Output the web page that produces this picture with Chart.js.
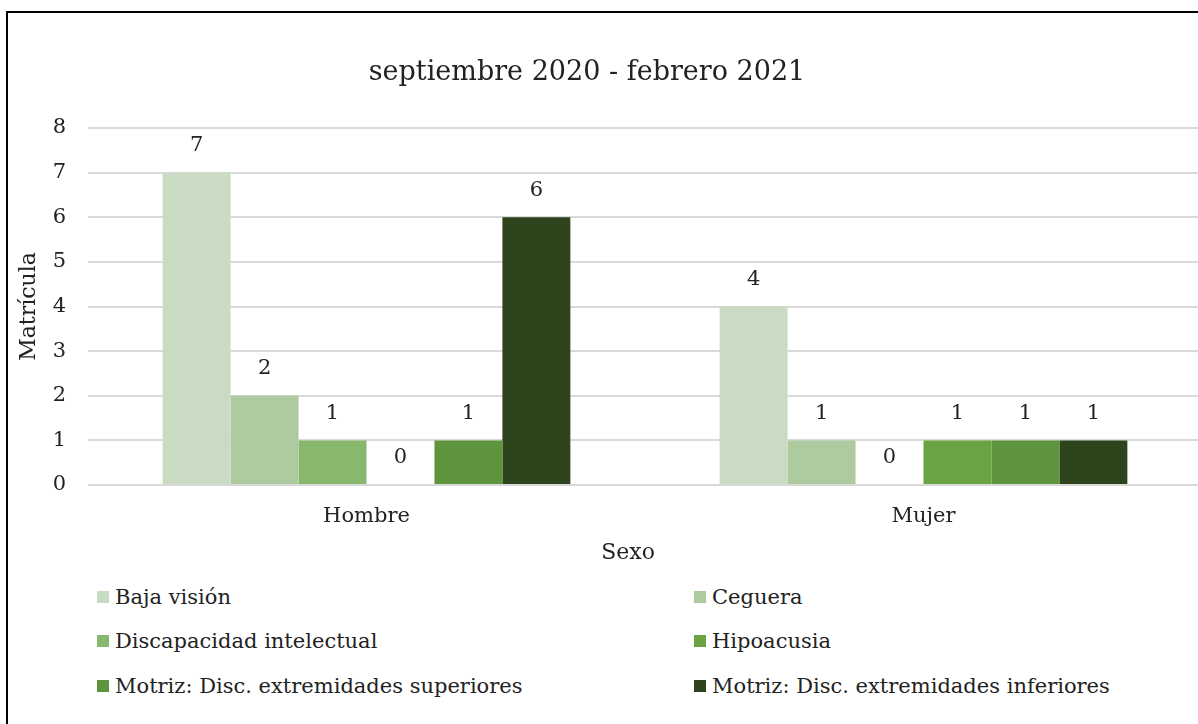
<!DOCTYPE html>
<html>
<head>
<meta charset="utf-8">
<script src="https://cdn.jsdelivr.net/npm/chart.js@4"></script>
<style>
  html, body { margin: 0; padding: 0; overflow: hidden; background: #fff; width: 1198px; height: 724px; }
  #frame { position: absolute; left: 6px; top: 11px; width: 1230px; height: 760px; border: 2px solid #000; box-sizing: border-box; }
  #wrap { position: absolute; left: 0; top: 0; width: 1202px; height: 570px; }
  #legend { position: absolute; left: 0; top: 0; font-family: "DejaVu Serif", serif; font-size: 21px; color: #222; }
  .item { position: absolute; white-space: nowrap; line-height: 24px; }
  .item span.box { position: absolute; left: 0; top: 6px; width: 12px; height: 12px; }
  .item span.txt { position: absolute; left: 18px; top: 0; }
</style>
</head>
<body>
<div id="frame"></div>
<div id="wrap"><canvas id="chart"></canvas></div>
<div id="legend"></div>
<script>
// Categories and series
const categories = ['Hombre', 'Mujer'];
const seriesNames = [
  'Baja visión',
  'Ceguera',
  'Discapacidad intelectual',
  'Hipoacusia',
  'Motriz: Disc. extremidades superiores',
  'Motriz: Disc. extremidades inferiores'
];
const bajaVision = [7, 4];
const ceguera = [2, 1];
const discIntelectual = [1, 0];
const hipoacusia = [0, 1];
const motrizSup = [1, 1];
const motrizInf = [6, 1];
const yTicks = [0, 1, 2, 3, 4, 5, 6, 7, 8];

const seriesValues = [bajaVision, ceguera, discIntelectual, hipoacusia, motrizSup, motrizInf];
const seriesColors = ['#C9DBC2', '#ADCB9F', '#88B76E', '#6AA342', '#5E943B', '#2D441D'];

const FONT = '"DejaVu Serif", serif';

// Title, x-axis title and value labels
const textPlugin = {
  id: 'textPlugin',
  afterDatasetsDraw(chart) {
    const ctx = chart.ctx;
    ctx.save();
    ctx.fillStyle = '#222';
    ctx.textAlign = 'center';
    ctx.textBaseline = 'middle';
    ctx.font = '21px ' + FONT;
    chart.data.datasets.forEach((ds, i) => {
      chart.getDatasetMeta(i).data.forEach((bar, j) => {
        ctx.fillText(String(ds.data[j]), bar.x, bar.y - 27);
      });
    });
    ctx.font = '27px ' + FONT;
    ctx.fillText('septiembre 2020 - febrero 2021', 587, 73);
    ctx.font = '22px ' + FONT;
    ctx.fillText('Sexo', 628, 553);
    ctx.restore();
  }
};

const chart = new Chart(document.getElementById('chart'), {
  type: 'bar',
  data: {
    labels: categories,
    datasets: seriesNames.map((name, i) => ({
      label: name,
      data: seriesValues[i],
      backgroundColor: seriesColors[i],
      borderWidth: 0,
      barPercentage: 1,
      categoryPercentage: 0.732
    }))
  },
  options: {
    responsive: true,
    maintainAspectRatio: false,
    animation: false,
    layout: { padding: { top: 128, left: 0, right: 0, bottom: 0 } },
    plugins: { legend: { display: false }, title: { display: false }, tooltip: { enabled: false } },
    scales: {
      x: {
        grid: { display: false },
        border: { display: false },
        ticks: { color: '#222', font: { family: FONT, size: 21 }, padding: 11 },
        afterFit(scale) { scale.height = 85; }
      },
      y: {
        min: 0,
        max: 8,
        afterBuildTicks(scale) { scale.ticks = yTicks.map(v => ({ value: v })); },
        grid: { color: '#d9d9d9', lineWidth: 2, drawTicks: false },
        border: { display: false },
        ticks: { color: '#222', font: { family: FONT, size: 21 }, padding: 22 },
        title: { display: true, text: 'Matrícula', color: '#222', font: { family: FONT, size: 22 }, padding: { top: 16, bottom: 0 } },
        afterFit(scale) { scale.width = 88; }
      }
    }
  },
  plugins: [textPlugin]
});

// Legend in two columns, built from the chart's datasets
const legendPos = [
  [97, 585], [694, 585],
  [97, 629], [694, 629],
  [97, 674], [694, 674]
];
const legend = document.getElementById('legend');
chart.data.datasets.forEach((ds, i) => {
  const item = document.createElement('div');
  item.className = 'item';
  item.style.left = legendPos[i][0] + 'px';
  item.style.top = legendPos[i][1] + 'px';
  item.innerHTML = `<span class="box" style="background:${ds.backgroundColor}"></span><span class="txt">${ds.label}</span>`;
  legend.appendChild(item);
});
</script>
</body>
</html>
